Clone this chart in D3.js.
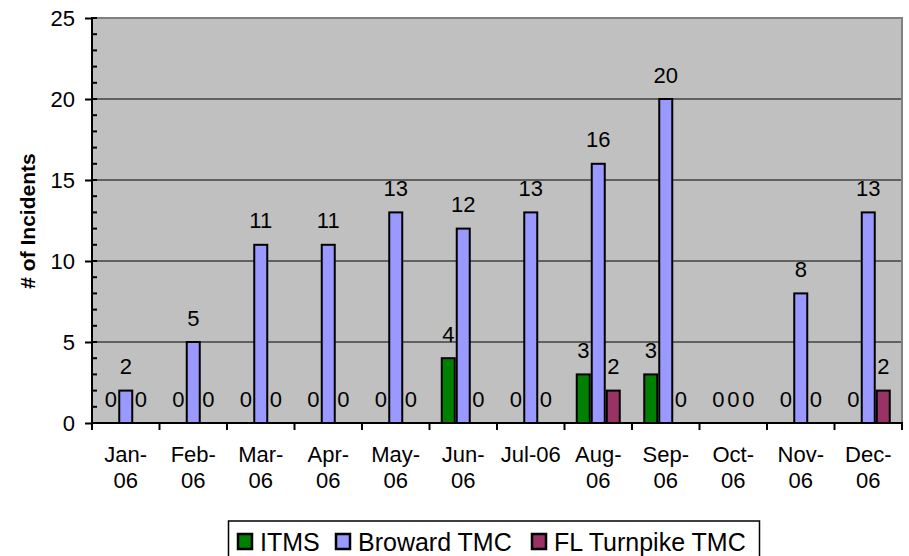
<!DOCTYPE html>
<html><head><meta charset="utf-8">
<script src="https://cdn.jsdelivr.net/npm/d3@7"></script>
<style>body{margin:0;background:#fff;} text{font-family:"Liberation Sans",Arial,sans-serif;}</style>
</head><body>
<svg id="c" width="909" height="556"></svg>
<script>
const months = ["Jan-06","Feb-06","Mar-06","Apr-06","May-06","Jun-06","Jul-06","Aug-06","Sep-06","Oct-06","Nov-06","Dec-06"];
const monthLabels = [["Jan-","06"],["Feb-","06"],["Mar-","06"],["Apr-","06"],["May-","06"],["Jun-","06"],["Jul-06"],["Aug-","06"],["Sep-","06"],["Oct-","06"],["Nov-","06"],["Dec-","06"]];
const seriesNames = ["ITMS","Broward TMC","FL Turnpike TMC"];
const itms    = [0,0,0,0,0,4,0,3,3,0,0,0];
const broward = [2,5,11,11,13,12,13,16,20,0,8,13];
const flTurn  = [0,0,0,0,0,0,0,2,0,0,0,2];
const colors = ["#008000","#9999FF","#993366"];
const yTicks = [0,5,10,15,20,25];

const FS = 22;
const seriesVals = [itms, broward, flTurn];
const svg = d3.select("#c");
const L=92, R=902, T=18, B=423;
const x = d3.scaleBand().domain(months).range([L,R]).padding(0);
const x1 = d3.scaleBand().domain(seriesNames).range([x.bandwidth()/2-22.5, x.bandwidth()/2+22.5]).padding(0);
const y = d3.scaleLinear().domain([0,25]).range([B,T]);

// plot background
svg.append("rect").attr("x",L).attr("y",T).attr("width",R-L).attr("height",B-T).attr("fill","#C0C0C0");
// gridlines
svg.append("g").selectAll("line").data([5,10,15,20]).join("line")
  .attr("x1",L).attr("x2",R).attr("y1",d=>y(d)).attr("y2",d=>y(d)).attr("stroke","#000").attr("stroke-width",1);
// top & right border
svg.append("line").attr("x1",L).attr("x2",R+1).attr("y1",y(25)).attr("y2",y(25)).attr("stroke","#808080").attr("stroke-width",2);
svg.append("line").attr("x1",R).attr("x2",R).attr("y1",T).attr("y2",B).attr("stroke","#808080").attr("stroke-width",2);

// bars
const gBars = svg.append("g");
months.forEach((m,i)=>{
  seriesNames.forEach((s,j)=>{
    const v = seriesVals[j][i];
    const bx = x(m)+x1(s);
    if(v>0){
      gBars.append("rect").attr("x",bx+1).attr("y",y(v)).attr("width",x1.bandwidth()-2).attr("height",y(0)-y(v))
        .attr("fill",colors[j]).attr("stroke","#000").attr("stroke-width",2);
    }
    gBars.append("text").attr("x",bx+x1.bandwidth()/2).attr("y",y(v)-16.5).attr("text-anchor","middle")
      .attr("font-size",FS).attr("fill","#000").text(v);
  });
});

// y axis
const yAxis = d3.axisLeft(y).tickValues(yTicks).tickSize(7).tickPadding(10);
const gy = svg.append("g").attr("transform",`translate(${L},0)`).call(yAxis);
gy.select(".domain").remove();
gy.selectAll(".tick line").attr("stroke","#000").attr("stroke-width",2);
gy.selectAll(".tick text").attr("font-size",FS).attr("font-family","Liberation Sans, Arial").attr("fill","#000");
// minor ticks
svg.append("g").selectAll("line").data(d3.range(0,26)).join("line")
  .attr("x1",L).attr("x2",L+5).attr("y1",d=>y(d)).attr("y2",d=>y(d)).attr("stroke","#000").attr("stroke-width",2);
svg.append("line").attr("x1",L).attr("x2",L).attr("y1",T-1).attr("y2",B+1).attr("stroke","#000").attr("stroke-width",2);

// x axis
svg.append("line").attr("x1",L).attr("x2",R+1).attr("y1",B).attr("y2",B).attr("stroke","#000").attr("stroke-width",2);
const bounds = months.map(m=>x(m)).concat([R]);
svg.append("g").selectAll("line").data(bounds).join("line")
  .attr("x1",d=>d).attr("x2",d=>d).attr("y1",B).attr("y2",B+7).attr("stroke","#000").attr("stroke-width",2);
const gx = svg.append("g");
months.forEach((m,i)=>{
  const t = gx.append("text").attr("x",x(m)+x.bandwidth()/2).attr("y",462).attr("text-anchor","middle").attr("font-size",FS).attr("fill","#000");
  monthLabels[i].forEach((ln,k)=>{
    t.append("tspan").attr("x",x(m)+x.bandwidth()/2).attr("dy",k===0?0:26).text(ln);
  });
});

// y title
svg.append("text").attr("transform","translate(35,221) rotate(-90)").attr("text-anchor","middle")
  .attr("font-size",21).attr("font-weight","bold").attr("fill","#000").text("# of Incidents");

// legend
svg.append("rect").attr("x",228.5).attr("y",521).attr("width",531).attr("height",50).attr("fill","#fff").attr("stroke","#000").attr("stroke-width",1.5);
const legX = [237,335,531];
seriesNames.forEach((s,j)=>{
  svg.append("rect").attr("x",legX[j]+1).attr("y",534).attr("width",14).attr("height",15).attr("fill",colors[j]).attr("stroke","#000").attr("stroke-width",2.5);
  svg.append("text").attr("x",legX[j]+23).attr("y",551).attr("font-size",25).attr("fill","#000").text(s);
});
</script>
</body></html>
